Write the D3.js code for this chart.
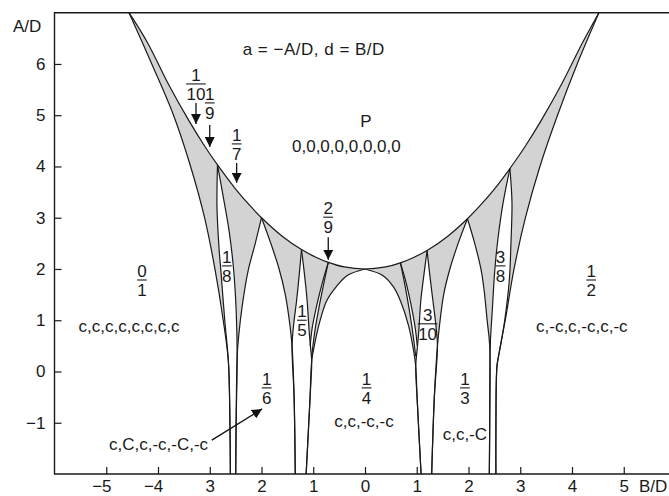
<!DOCTYPE html>
<html>
<head>
<meta charset="utf-8">
<script src="https://cdn.jsdelivr.net/npm/d3@7"></script>
<style>
  body { margin: 0; background: #fff; }
  text { font-family: "Liberation Sans", Arial, Helvetica, sans-serif; font-size: 17px; fill: #1a1a1a; }
</style>
</head>
<body>
<svg id="chart" width="669" height="496"></svg>
<script>
// axis ticks (the source prints 3, 2, 1 on the negative side without the minus)
const xTickValues = [-5, -4, -3, -2, -1, 0, 1, 2, 3, 4, 5];
const xTickLabels = ["−5", "−4", "3", "2", "1", "0", "1", "2", "3", "4", "5"];
const yTickValues = [-1, 0, 1, 2, 3, 4, 5, 6];
const yTickLabels = ["−1", "0", "1", "2", "3", "4", "5", "6"];

// upper boundary of the locking region (d = B/D, a = A/D), tips included
const bowl = [[-4.56, 7], [-4.2, 6.41], [-3.8, 5.61], [-3.4, 4.89], [-3.1, 4.4], [-2.85, 4.03],
  [-2.5, 3.56], [-2.2, 3.21], [-2.0, 3.0], [-1.6, 2.64], [-1.227, 2.38], [-0.95, 2.23],
  [-0.709, 2.13], [-0.4, 2.04], [0, 2], [0.4, 2.04], [0.684, 2.12], [0.95, 2.23], [1.2, 2.36],
  [1.6, 2.64], [1.98, 2.98], [2.2, 3.21], [2.5, 3.56], [2.8, 3.96], [3.1, 4.4], [3.4, 4.89],
  [3.8, 5.61], [4.2, 6.41], [4.52, 7]];

// outer edges of 0/1 and 1/2
const leftOuter = [[-4.56, 7], [-4.12, 6], [-3.7, 5], [-3.37, 4], [-3.1, 3], [-2.9, 2], [-2.74, 1], [-2.64, 0.2], [-2.61, -1], [-2.6, -2.3]];
const rightOuter = [[4.52, 7], [4.1, 6], [3.72, 5], [3.38, 4], [3.1, 3], [2.88, 2], [2.71, 1], [2.58, 0.3], [2.55, 0.1], [2.53, -1], [2.53, -2.3]];

// tongue edges, each from its tip down to the bottom
const edge18L = [[-2.85, 4.03], [-2.86, 3.2], [-2.82, 2.4], [-2.78, 1.9], [-2.71, 1.0], [-2.64, 0.2], [-2.61, -1], [-2.6, -2.3]];
const edge18R = [[-2.85, 4.03], [-2.72, 3.3], [-2.62, 2.7], [-2.54, 2.0], [-2.49, 1.2], [-2.47, 0.3], [-2.49, -1], [-2.5, -2.3]];
const edge16L = [[-2.0, 3.0], [-2.12, 2.5], [-2.26, 1.96], [-2.37, 1.3], [-2.44, 0.7], [-2.47, 0.3], [-2.49, -1], [-2.5, -2.3]];
const edge16R = [[-2.0, 3.0], [-1.82, 2.5], [-1.66, 2.0], [-1.54, 1.5], [-1.45, 0.9], [-1.41, 0.5], [-1.37, -0.5], [-1.345, -2.3]];
const edge15L = [[-1.227, 2.38], [-1.27, 1.9], [-1.32, 1.4], [-1.38, 0.9], [-1.41, 0.5], [-1.37, -0.5], [-1.345, -2.3]];
const edge15R = [[-1.227, 2.38], [-1.17, 1.9], [-1.12, 1.4], [-1.08, 0.8], [-1.05, 0.45], [-1.03, 0.2], [-1.065, -0.58], [-1.153, -2.3]];
const edge29L = [[-0.709, 2.13], [-0.82, 1.75], [-0.93, 1.3], [-1.02, 0.85], [-1.06, 0.5]];
const edge29R = [[-0.709, 2.13], [-0.79, 1.75], [-0.88, 1.3], [-0.96, 0.85], [-1.0, 0.55], [-1.03, 0.3]];
const edge14L = [[0, 2], [-0.35, 1.87], [-0.55, 1.66], [-0.74, 1.38], [-0.88, 0.95], [-0.97, 0.55], [-1.03, 0.2], [-1.065, -0.58], [-1.153, -2.3]];
const edge14R = [[0, 2], [0.35, 1.87], [0.55, 1.65], [0.684, 1.38], [0.84, 0.9], [0.94, 0.4], [0.98, 0.1], [1.01, -0.58], [1.1, -2.3]];
const edge27L = [[0.684, 2.12], [0.76, 1.75], [0.84, 1.3], [0.91, 0.85], [0.95, 0.55], [0.98, 0.3]];
const edge27R = [[0.684, 2.12], [0.79, 1.75], [0.89, 1.3], [0.97, 0.85], [1.01, 0.5]];
const edge310L = [[1.2, 2.36], [1.14, 1.9], [1.08, 1.4], [1.04, 0.8], [1.01, 0.45], [0.98, 0.1], [1.01, -0.58], [1.1, -2.3]];
const edge310R = [[1.2, 2.36], [1.25, 1.9], [1.31, 1.4], [1.37, 0.9], [1.4, 0.5], [1.34, -0.5], [1.28, -2.3]];
const edge13L = [[1.98, 2.98], [1.8, 2.5], [1.64, 2.0], [1.52, 1.5], [1.44, 0.9], [1.4, 0.5], [1.34, -0.5], [1.28, -2.3]];
const edge13R = [[1.98, 2.98], [2.12, 2.5], [2.24, 2.0], [2.3, 1.6], [2.36, 1.0], [2.41, 0.5], [2.41, -1], [2.4, -2.3]];
const edge38L = [[2.8, 3.96], [2.67, 3.3], [2.57, 2.6], [2.51, 2.0], [2.46, 1.2], [2.42, 0.5], [2.41, -1], [2.4, -2.3]];
const edge38R = [[2.8, 3.96], [2.84, 3.3], [2.82, 2.5], [2.79, 1.8], [2.7, 1.0], [2.6, 0.4], [2.55, 0.1], [2.53, -1], [2.53, -2.3]];

const tongues = [[edge18L, edge18R], [edge16L, edge16R], [edge15L, edge15R], [edge29L, edge29R],
  [edge14L, edge14R], [edge27L, edge27R], [edge310L, edge310R], [edge13L, edge13R], [edge38L, edge38R]];

// labels, anchored in data units
const fractions = [
  { num: "0", den: "1", d: -4.31, a: 1.785 },
  { num: "1", den: "2", d: 4.37, a: 1.785 },
  { num: "1", den: "8", d: -2.67, a: 2.06 },
  { num: "3", den: "8", d: 2.62, a: 2.06 },
  { num: "1", den: "5", d: -1.22, a: 1.0 },
  { num: "3", den: "10", d: 1.21, a: 0.93 },
  { num: "1", den: "6", d: -1.9, a: -0.32 },
  { num: "1", den: "4", d: 0.03, a: -0.32 },
  { num: "1", den: "3", d: 1.93, a: -0.32 },
  { num: "1", den: "10", d: -3.266, a: 5.61 },
  { num: "1", den: "9", d: -3.0, a: 5.24 },
  { num: "1", den: "7", d: -2.48, a: 4.44 },
  { num: "2", den: "9", d: -0.71, a: 3.01 }
];
const arrows = [
  { from: [-3.266, 5.24], to: [-3.266, 4.83] },
  { from: [-3.0, 4.81], to: [-3.0, 4.38] },
  { from: [-2.48, 4.07], to: [-2.48, 3.68] },
  { from: [-0.71, 2.62], to: [-0.71, 2.18] },
  { from: [-2.96, -1.34], to: [-1.99, -0.73] }
];
const notes = [
  { text: "a = −A/D, d = B/D", d: -0.99, a: 6.17 },
  { text: "P", d: 0.02, a: 4.77 },
  { text: "0,0,0,0,0,0,0,0", d: -0.36, a: 4.28 },
  { text: "c,c,c,c,c,c,c,c", d: -4.56, a: 0.77 },
  { text: "c,-c,c,-c,c,-c", d: 4.19, a: 0.77 },
  { text: "c,c,-c,-c", d: -0.02, a: -1.08 },
  { text: "c,c,-C", d: 1.93, a: -1.34 },
  { text: "c,C,c,-c,-C,-c", d: -3.99, a: -1.53 }
];

const width = 669, height = 496;
const svg = d3.select("#chart");

const x = d3.scaleLinear().domain([-6, 6]).range([54.5, 675.5]);
const y = d3.scaleLinear().domain([-2, 7]).range([474, 12.7]);

const lineGen = d3.line()
  .x((p) => x(p[0]))
  .y((p) => y(p[1]))
  .curve(d3.curveCatmullRom.alpha(0.5));

function joinPath(parts) {
  return parts.map((pts, i) => {
    const s = lineGen(pts);
    return i === 0 ? s : "L" + s.slice(1);
  }).join("") + "Z";
}

const defs = svg.append("defs");
defs.append("clipPath").attr("id", "plotClip")
  .append("rect")
  .attr("x", x(-6)).attr("y", y(7))
  .attr("width", x(6) - x(-6)).attr("height", y(-2) - y(7));

defs.append("marker")
  .attr("id", "head")
  .attr("markerUnits", "userSpaceOnUse")
  .attr("viewBox", "0 0 10 10")
  .attr("refX", 10).attr("refY", 5)
  .attr("markerWidth", 10).attr("markerHeight", 10)
  .attr("orient", "auto")
  .append("path")
  .attr("d", "M0,0L10,5L0,10Z")
  .attr("fill", "#111");

const plot = svg.append("g").attr("clip-path", "url(#plotClip)");

// grey band under the bowl, between the two outer edges
plot.append("path")
  .attr("d", joinPath([bowl, rightOuter, leftOuter.slice().reverse()]))
  .attr("fill", "#d3d3d3");

// white tongues on top
plot.selectAll(".tongue")
  .data(tongues)
  .enter()
  .append("path")
  .classed("tongue", true)
  .attr("d", (t) => joinPath([t[0], t[1].slice().reverse()]))
  .attr("fill", "#fff");

// all boundary lines
const curves = [bowl, leftOuter, rightOuter].concat(tongues.flat());
plot.selectAll(".edge")
  .data(curves)
  .enter()
  .append("path")
  .classed("edge", true)
  .attr("d", (c) => lineGen(c))
  .attr("fill", "none")
  .attr("stroke", "#1a1a1a")
  .attr("stroke-width", 1.2);

// frame
svg.append("path")
  .attr("d", "M" + x(6) + "," + y(7) + "H" + x(-6) + "V" + y(-2) + "H" + x(6))
  .attr("fill", "none")
  .attr("stroke", "#1a1a1a")
  .attr("stroke-width", 1.4);

// axes, ticks pointing inward
const xAxis = svg.append("g")
  .attr("transform", "translate(0," + y(-2) + ")")
  .call(d3.axisBottom(x)
    .tickValues(xTickValues)
    .tickSizeInner(-7)
    .tickSizeOuter(0)
    .tickPadding(6)
    .tickFormat((v, i) => xTickLabels[i]));
xAxis.select(".domain").remove();
xAxis.selectAll("line").attr("stroke", "#1a1a1a").attr("stroke-width", 1.2);
xAxis.selectAll("text")
  .attr("font-size", null).attr("font-family", null)
  .attr("dx", (v, i) => xTickLabels[i].startsWith("−") ? "-0.29em" : 0);

const yAxis = svg.append("g")
  .attr("transform", "translate(" + x(-6) + ",0)")
  .call(d3.axisLeft(y)
    .tickValues(yTickValues)
    .tickSizeInner(-7)
    .tickSizeOuter(0)
    .tickPadding(9)
    .tickFormat((v, i) => yTickLabels[i]));
yAxis.select(".domain").remove();
yAxis.selectAll("line").attr("stroke", "#1a1a1a").attr("stroke-width", 1.2);
yAxis.selectAll("text").attr("font-size", null).attr("font-family", null);

svg.append("text").attr("x", 13).attr("y", 32).text("A/D");
svg.append("text").attr("x", 639).attr("y", 492).text("B/D");

// notes
svg.selectAll(".note")
  .data(notes)
  .enter()
  .append("text")
  .classed("note", true)
  .attr("x", (n) => x(n.d))
  .attr("y", (n) => y(n.a))
  .attr("text-anchor", "middle")
  .attr("letter-spacing", (n, i) => i === 0 ? "0.5px" : null)
  .text((n) => n.text);

// fraction labels
const fracGroups = svg.selectAll(".frac")
  .data(fractions)
  .enter()
  .append("g")
  .classed("frac", true)
  .attr("transform", (f) => "translate(" + x(f.d) + "," + y(f.a) + ")");

fracGroups.append("text")
  .attr("y", -3)
  .attr("text-anchor", "middle")
  .text((f) => f.num);

fracGroups.append("text")
  .attr("y", 16)
  .attr("text-anchor", "middle")
  .text((f) => f.den);

fracGroups.append("line")
  .attr("x1", (f) => -Math.max(f.num.length, f.den.length) * 4.9)
  .attr("x2", (f) => Math.max(f.num.length, f.den.length) * 4.9)
  .attr("stroke", "#1a1a1a")
  .attr("stroke-width", 1.1);

// arrows
svg.selectAll(".arrow")
  .data(arrows)
  .enter()
  .append("line")
  .classed("arrow", true)
  .attr("x1", (r) => x(r.from[0]))
  .attr("y1", (r) => y(r.from[1]))
  .attr("x2", (r) => x(r.to[0]))
  .attr("y2", (r) => y(r.to[1]))
  .attr("stroke", "#111")
  .attr("stroke-width", 1.3)
  .attr("marker-end", "url(#head)");
</script>
</body>
</html>
